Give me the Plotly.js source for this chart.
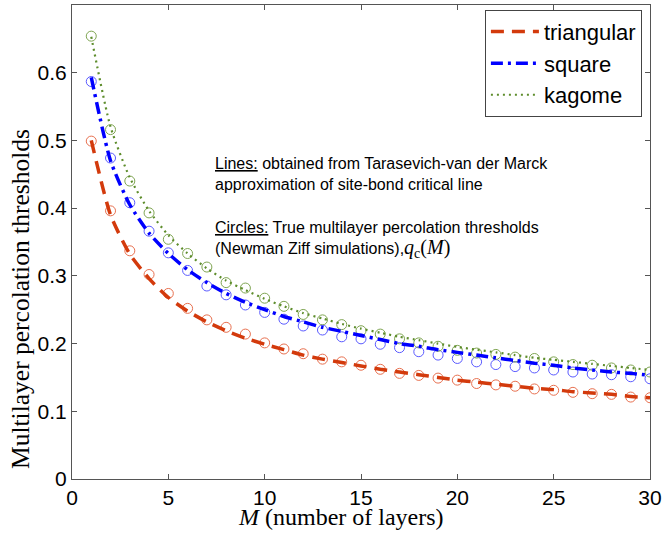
<!DOCTYPE html>
<html>
<head>
<meta charset="utf-8">
<script src="https://cdn.plot.ly/plotly-3.0.1.min.js"></script>
<style>html,body{margin:0;padding:0;background:#fff;}#chart{width:663px;height:533px;}</style>
</head>
<body>
<div id="chart"></div>
<script>
// Number of layers M
const layers = [1,2,3,4,5,6,7,8,9,10,11,12,13,14,15,16,17,18,19,20,21,22,23,24,25,26,27,28,29,30];

// Lines: Tarasevich-van der Marck approximation
const triangularLine = [0.500,0.390,0.332,0.296,0.268,0.248,0.232,0.219,0.208,0.199,0.191,0.183,0.177,0.172,0.167,0.162,0.158,0.154,0.150,0.146,0.143,0.140,0.137,0.134,0.132,0.129,0.127,0.125,0.122,0.120];
const squareLine     = [0.593,0.470,0.405,0.363,0.333,0.309,0.290,0.274,0.261,0.250,0.240,0.232,0.224,0.218,0.212,0.206,0.200,0.196,0.191,0.187,0.183,0.179,0.175,0.171,0.168,0.164,0.161,0.158,0.156,0.153];
const kagomeLine     = [0.653,0.520,0.445,0.396,0.360,0.333,0.311,0.293,0.279,0.266,0.255,0.245,0.237,0.229,0.222,0.216,0.210,0.205,0.200,0.195,0.191,0.187,0.183,0.179,0.176,0.173,0.170,0.167,0.164,0.161];

// Circles: Newman Ziff simulations
const triangularSim = [0.499,0.396,0.337,0.302,0.274,0.252,0.235,0.224,0.214,0.201,0.192,0.185,0.177,0.173,0.168,0.162,0.156,0.153,0.149,0.146,0.141,0.139,0.137,0.133,0.131,0.128,0.126,0.125,0.121,0.120];
const squareSim     = [0.587,0.474,0.408,0.366,0.334,0.308,0.285,0.272,0.257,0.246,0.236,0.226,0.220,0.210,0.207,0.199,0.194,0.188,0.183,0.178,0.173,0.169,0.166,0.164,0.161,0.158,0.155,0.154,0.151,0.148];
const kagomeSim     = [0.654,0.516,0.440,0.393,0.354,0.333,0.313,0.290,0.282,0.267,0.255,0.243,0.235,0.228,0.219,0.214,0.207,0.201,0.196,0.190,0.186,0.184,0.180,0.178,0.173,0.169,0.168,0.164,0.161,0.158];

const seriesNames = ['triangular','square','kagome'];
const xTicks = [0,5,10,15,20,25,30];
const yTicks = [0,0.1,0.2,0.3,0.4,0.5,0.6];

const sans = 'Arial, "Liberation Sans", sans-serif';
const serif = '"Liberation Serif", "DejaVu Serif", serif';

function circles(y, color){
  return {x: layers, y: y, type:'scatter', mode:'markers', showlegend:false, hoverinfo:'skip',
    marker:{symbol:'circle-open', size:10, color:color, line:{width:1, color:color}}};
}
function line(y, name, color, dash, width){
  return {x: layers, y: y, type:'scatter', mode:'lines', name:name,
    line:{color:color, dash:dash, width:width, shape:'spline', smoothing:0.6}};
}

const data = [
  circles(triangularSim, '#e8704f'),
  circles(squareSim, '#5a5aff'),
  circles(kagomeSim, '#7fa552'),
  line(triangularLine, seriesNames[0], '#d33a0c', '13px,8px', 3.5),
  line(squareLine, seriesNames[1], '#0000ff', '12px,5px,3px,5px', 3.5),
  line(kagomeLine, seriesNames[2], '#5e8d2c', '2px,4px', 2.2)
];

const layout = {
  width:663, height:533,
  margin:{l:72, r:13, t:5, b:54},
  paper_bgcolor:'#fff', plot_bgcolor:'#fff',
  showlegend:true,
  legend:{x:0.986, y:0.99, xanchor:'right', yanchor:'top', bgcolor:'#fff',
    bordercolor:'#444', borderwidth:1, font:{family:sans, size:22, color:'#000'},
    tracegroupgap:0, itemwidth:48},
  xaxis:{range:[0,30], tickvals:xTicks, ticktext:xTicks.map(String), ticks:'inside', ticklen:5,
    tickcolor:'#555', showline:true, linecolor:'#555', linewidth:1, mirror:'ticks',
    showgrid:false, zeroline:false, tickfont:{family:sans, size:21, color:'#000'}},
  yaxis:{range:[0,0.7], tickvals:yTicks, ticktext:yTicks.map(String), ticks:'inside', ticklen:5,
    tickcolor:'#555', showline:true, linecolor:'#555', linewidth:1, mirror:'ticks',
    showgrid:false, zeroline:false, tickfont:{family:sans, size:21, color:'#000'}},
  annotations:[
    {xref:'paper', yref:'paper', x:-0.088, y:0.38, xanchor:'center', yanchor:'middle', textangle:-90,
     showarrow:false, text:'Multilayer percolation thresholds', font:{family:serif, size:25.5, color:'#000'}},
    {xref:'paper', yref:'paper', x:0.465, y:-0.080, xanchor:'center', yanchor:'middle',
     showarrow:false, text:'<i>M</i> (number of layers)', font:{family:serif, size:24, color:'#000'}},
    {xref:'x', yref:'y', x:7.32, y:0.45, xanchor:'left', yanchor:'middle', align:'left', showarrow:false,
     text:'<u>Lines:</u> obtained from Tarasevich-van der Marck<br>approximation of site-bond critical line',
     font:{family:sans, size:16, color:'#000'}},
    {xref:'x', yref:'y', x:7.32, y:0.353, xanchor:'left', yanchor:'middle', align:'left', showarrow:false,
     text:'<u>Circles:</u> True multilayer percolation thresholds<br>(Newman Ziff simulations),<span style="font-family:\'Liberation Serif\';font-size:20px"><i>q</i><sub>c</sub>(<i>M</i>)</span>',
     font:{family:sans, size:16, color:'#000'}}
  ]
};

Plotly.newPlot('chart', data, layout, {staticPlot:true, displayModeBar:false});
</script>
</body>
</html>
